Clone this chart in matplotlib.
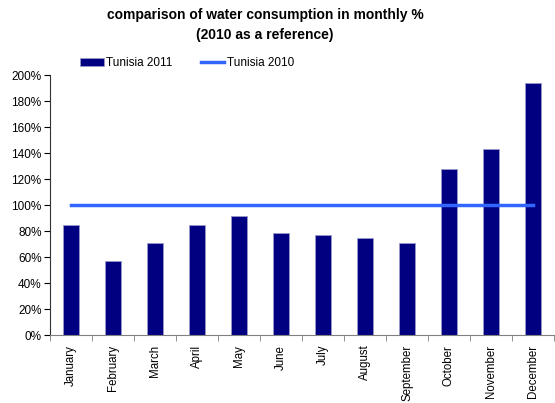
import numpy as np
import matplotlib.pyplot as plt
from matplotlib.ticker import FuncFormatter

months = ['January', 'February', 'March', 'April', 'May', 'June', 'July',
          'August', 'September', 'October', 'November', 'December']
tunisia_2011 = [84.5, 57, 70.5, 85, 91.5, 78.5, 77, 74.5, 71, 127.5, 143, 194]
tunisia_2010 = [100] * 12

plt.rcParams['font.family'] = ['Liberation Sans', 'DejaVu Sans']

fig = plt.figure(figsize=(5.55, 4.03), dpi=100)
ax = fig.add_axes([50 / 555, (403 - 335) / 403, 504 / 555, 260 / 403])

x = np.arange(len(months))
bars = ax.bar(x, tunisia_2011, width=0.4, color='#000080', edgecolor='#9999cc',
              linewidth=0.6, label='Tunisia 2011', zorder=2)
line, = ax.plot(x, tunisia_2010, color='#3366ff', linewidth=2.5,
                label='Tunisia 2010', zorder=3)

ax.set_xlim(-0.5, len(months) - 0.5)
ax.set_ylim(0, 200)
ax.set_yticks(np.arange(0, 201, 20))
ax.yaxis.set_major_formatter(FuncFormatter(lambda v, p: '%d%%' % v))

# category labels in the middle, ticks on the boundaries
ax.set_xticks(x)
ax.set_xticklabels(months, rotation=90)
ax.set_xticks(np.arange(-0.5, len(months)), minor=True)
ax.tick_params(axis='x', which='major', length=0, pad=7, labelsize=8.3)
ax.tick_params(axis='x', which='minor', length=4, color='#808080')
ax.tick_params(axis='y', length=4, labelsize=8.5, pad=2)

for side in ['top', 'right']:
    ax.spines[side].set_visible(False)
ax.spines['bottom'].set_color('#808080')
ax.spines['left'].set_color('#333333')

fig.text(265 / 555, 1 - 25 / 403,
         'comparison of water consumption in monthly %\n(2010 as a reference)',
         fontsize=10, fontweight='bold', ha='center', va='center',
         linespacing=1.55)

ax.legend([bars, line], ['Tunisia 2011', 'Tunisia 2010'],
          loc='center left', bbox_to_anchor=(30 / 504, 1 + 12 / 260), ncol=2,
          frameon=False, fontsize=8.5, handlelength=2.0, handleheight=0.6,
          columnspacing=2.4, borderaxespad=0, borderpad=0, handletextpad=0.2)

fig.savefig('out.png', dpi=100)
